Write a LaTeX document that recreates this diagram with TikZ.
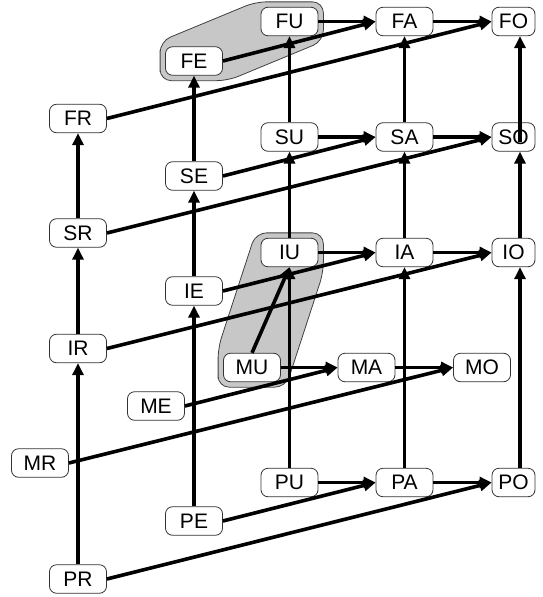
\documentclass[tikz,border=0pt]{standalone}
\usepackage{fontspec}
\setmainfont{Liberation Sans}
\usetikzlibrary{arrows.meta,backgrounds}
\begin{document}
\begin{tikzpicture}[x=1pt,y=-1pt,
 box/.style={draw=black!80, line width=0.8pt, fill=white, rounded corners=7pt, minimum width=57pt, minimum height=28.5pt, inner sep=0pt, text height=14.5pt, text depth=0pt, font=\fontsize{21}{22}\selectfont},
 obox/.style={box, minimum width=43pt},
 link/.style={line width=3.6pt, -{Triangle[length=12pt,width=11pt]}},
 region/.style={fill=black!22, draw=black!75, line width=0.8pt, rounded corners=11pt}]
\useasboundingbox (0,0) rectangle (543,597);
% F row
\node[box] (FU) at (289.5,21.5) {FU};
\node[box] (FA) at (404.5,21.5) {FA};
\node[obox] (FO) at (513.5,21.5) {FO};
\node[box] (FE) at (194,61) {FE};
\node[box] (FR) at (78,118.5) {FR};
% S row
\node[box] (SU) at (289.5,137) {SU};
\node[box] (SA) at (404.5,137) {SA};
\node[obox] (SO) at (513.5,137) {SO};
\node[box] (SE) at (194,176) {SE};
\node[box] (SR) at (78,233) {SR};
% I row
\node[box] (IU) at (289.5,252.5) {IU};
\node[box] (IA) at (404.5,252.5) {IA};
\node[obox] (IO) at (513.5,252.5) {IO};
\node[box] (IE) at (194,291) {IE};
\node[box] (IR) at (78,348.5) {IR};
% M row
\node[box] (MU) at (252,367.5) {MU};
\node[box] (MA) at (366.5,367.5) {MA};
\node[box] (MO) at (482,367.5) {MO};
\node[box] (ME) at (156,406) {ME};
\node[box] (MR) at (40,463) {MR};
% P row
\node[box] (PU) at (289.5,482.5) {PU};
\node[box] (PA) at (404.5,482.5) {PA};
\node[obox] (PO) at (513.5,482.5) {PO};
\node[box] (PE) at (194,521) {PE};
\node[box] (PR) at (78,579) {PR};
% regions
\begin{scope}[on background layer]
\draw[region] ([xshift=-5pt]FE.west) -- ([shift={(-5pt,5pt)}]FE.north west) -- ([shift={(-5pt,5pt)}]FU.north west) -- ([shift={(5pt,5pt)}]FU.north east) -- ([shift={(5pt,-5pt)}]FU.south east) -- ([shift={(5pt,-5pt)}]FE.south east) -- ([shift={(-5pt,-5pt)}]FE.south west) -- cycle;
\draw[region] ([xshift=-5pt]MU.west) -- ([shift={(-5pt,5pt)}]MU.north west) -- ([shift={(-5pt,5pt)}]IU.north west) -- ([shift={(5pt,5pt)}]IU.north east) -- ([shift={(5pt,-5pt)}]IU.south east) -- ([shift={(5pt,-5pt)}]MU.south east) -- ([shift={(-5pt,-5pt)}]MU.south west) -- cycle;
\end{scope}
% vertical links
\draw[link] (PR.north) -- (IR.south);
\draw[link] (IR.north) -- (SR.south);
\draw[link] (SR.north) -- (FR.south);
\draw[link] (PE.north) -- (IE.south);
\draw[link] (IE.north) -- (SE.south);
\draw[link] (SE.north) -- (FE.south);
\draw[link] (PU.north) -- (IU.south);
\draw[link] (MU.north) -- (IU.south);
\draw[link] (IU.north) -- (SU.south);
\draw[link] (SU.north) -- (FU.south);
\draw[link] (PA.north) -- (IA.south);
\draw[link] (IA.north) -- (SA.south);
\draw[link] (SA.north) -- (FA.south);
\draw[link] ([xshift=6.5pt]PO.north) -- ([xshift=6.5pt]IO.south);
\draw[link] ([xshift=6.5pt]IO.north) -- ([xshift=6.5pt]SO.south);
\draw[link] ([xshift=6.5pt,yshift=-5pt]SO.center) -- ([xshift=6.5pt]FO.south);
% horizontal links
\draw[link] (FU.east) -- (FA.west);
\draw[link] (FA.east) -- (FO.west);
\draw[link] (SU.east) -- (SA.west);
\draw[link] (SA.east) -- (SO.west);
\draw[link] (IU.east) -- (IA.west);
\draw[link] (IA.east) -- (IO.west);
\draw[link] (MU.east) -- (MA.west);
\draw[link] (MA.east) -- (MO.west);
\draw[link] (PU.east) -- (PA.west);
\draw[link] (PA.east) -- (PO.west);
% diagonal links
\draw[link] (FE.east) -- (FA.west);
\draw[link] (FR.east) -- (FO.west);
\draw[link] (SE.east) -- (SA.west);
\draw[link] (SR.east) -- (SO.west);
\draw[link] (IE.east) -- (IA.west);
\draw[link] (IR.east) -- (IO.west);
\draw[link] (ME.east) -- (MA.west);
\draw[link] (MR.east) -- (MO.west);
\draw[link] (PE.east) -- (PA.west);
\draw[link] (PR.east) -- (PO.west);
\end{tikzpicture}
\end{document}
